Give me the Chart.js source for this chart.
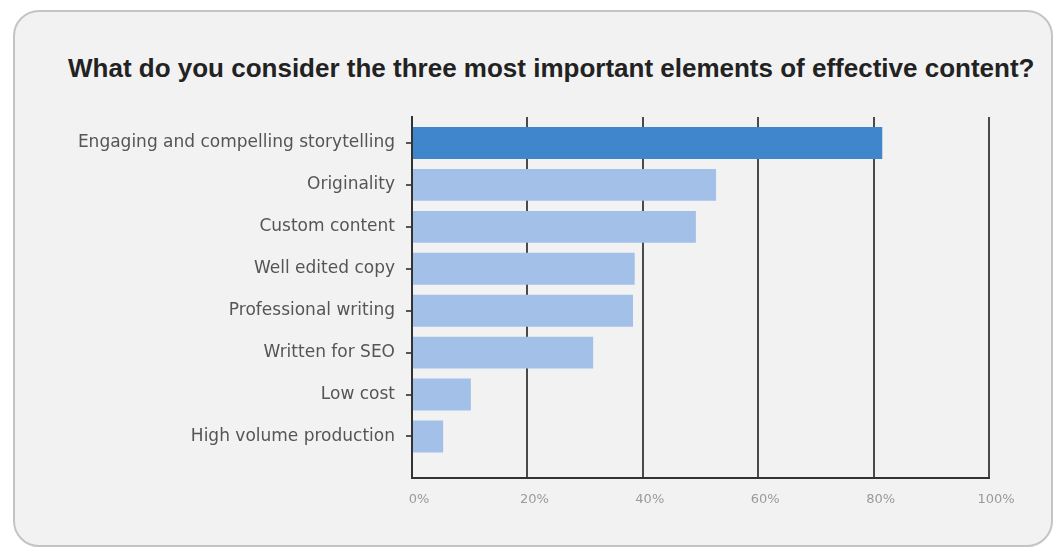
<!DOCTYPE html>
<html>
<head>
<meta charset="utf-8">
<script src="https://cdn.jsdelivr.net/npm/chart.js@4/dist/chart.umd.min.js"></script>
<style>
  html, body { margin: 0; padding: 0; background: #ffffff; }
  .wrap { position: relative; width: 1058px; height: 549px; overflow: hidden; }
  .card {
    position: absolute; left: 13px; top: 10px; width: 1036px; height: 533px;
    background: #f2f2f2; border: 2px solid #c4c4c4; border-radius: 26px;
  }
  .title {
    position: absolute; left: 68px; top: 53px; white-space: nowrap;
    font: bold 26px/30px "Liberation Sans", Arial, sans-serif; color: #222;
  }
  canvas { position: absolute; left: 0; top: 0; }
</style>
</head>
<body>
<div class="wrap">
  <div class="card"></div>
  <div class="title">What do you consider the three most important elements of effective content?</div>
  <canvas id="chart" width="1058" height="549"></canvas>
</div>
<script>
  const categories = [
    "Engaging and compelling storytelling",
    "Originality",
    "Custom content",
    "Well edited copy",
    "Professional writing",
    "Written for SEO",
    "Low cost",
    "High volume production",
  ];
  const values = [81.5, 52.7, 49.2, 38.6, 38.3, 31.4, 10.2, 5.4];
  const xTicks = [0, 20, 40, 60, 80, 100];

  const darkBlue = "#3f86cc";
  const lightBlue = "#a3c0e9";

  new Chart(document.getElementById("chart"), {
    type: "bar",
    data: {
      datasets: [
        {
          data: values.map((v, i) => ({ x: v, y: i })),
          backgroundColor: values.map((v, i) => (i === 0 ? darkBlue : lightBlue)),
          barPercentage: 0.76,
          categoryPercentage: 1,
        },
      ],
    },
    options: {
      indexAxis: "y",
      responsive: false,
      animation: false,
      layout: { padding: { left: 68, right: 69, top: 117, bottom: 29 } },
      plugins: {
        legend: { display: false },
        tooltip: { enabled: false },
      },
      scales: {
        x: {
          type: "linear",
          min: 0,
          max: 100,
          afterBuildTicks: (scale) => {
            scale.ticks = xTicks.map((v) => ({ value: v }));
          },
          ticks: {
            callback: (v) => v + "%",
            color: "#9a9a9a",
            font: { family: "DejaVu Sans", size: 13 },
            padding: 13,
            labelOffset: 7,
          },
          grid: { color: "#4a4a4a", lineWidth: 2, drawTicks: false },
          border: { color: "#333", width: 2 },
        },
        y: {
          type: "linear",
          reverse: true,
          offset: false,
          min: -0.62,
          max: 8,
          afterBuildTicks: (scale) => {
            scale.ticks = categories.map((c, i) => ({ value: i }));
          },
          afterFit: (scale) => {
            scale.width = 412 - 68;
          },
          ticks: {
            callback: (v) => categories[v],
            color: "#555",
            font: { family: "DejaVu Sans", size: 17 },
            padding: 11,
          },
          grid: { offset: false, drawOnChartArea: false, drawTicks: true, tickLength: 6, color: "#555", lineWidth: 2 },
          border: { color: "#333", width: 2 },
        },
      },
    },
  });
</script>
</body>
</html>
